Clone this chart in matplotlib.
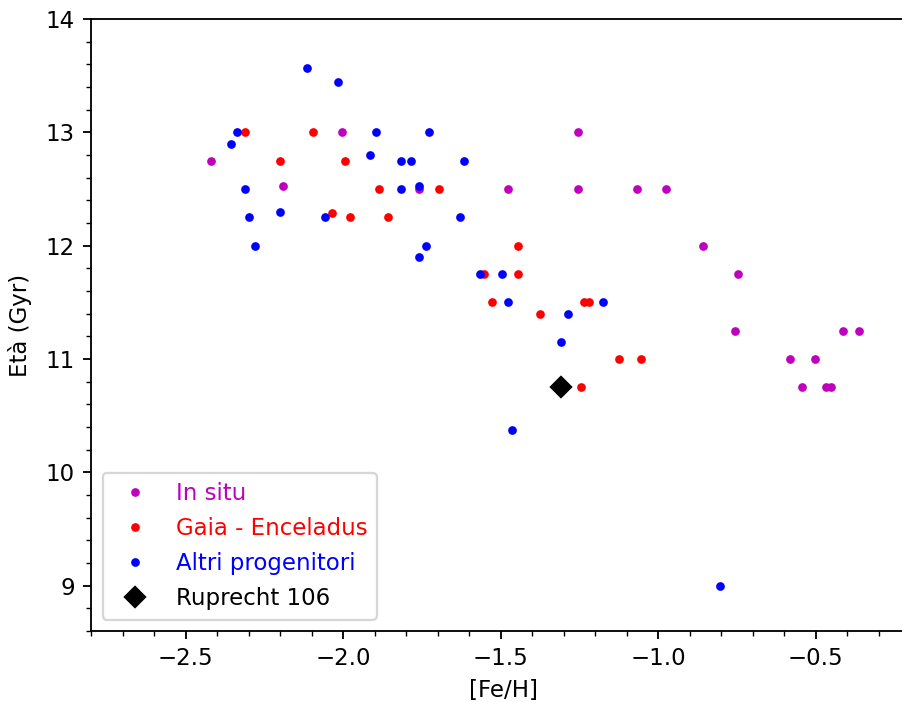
import matplotlib
matplotlib.use("Agg")
import matplotlib.pyplot as plt

DPI = 165

# In situ
insitu_feh = [-2.42, -2.19, -2.005, -1.758, -1.476, -1.255, -1.255, -1.066, -0.976,
              -0.856, -0.746, -0.755, -0.582, -0.503, -0.544, -0.468, -0.452, -0.414, -0.361]
insitu_age = [12.75, 12.53, 13.0, 12.5, 12.5, 13.0, 12.5, 12.5, 12.5,
              12.0, 11.75, 11.25, 11.0, 11.0, 10.75, 10.75, 10.75, 11.25, 11.25]

# Gaia - Enceladus
ge_feh = [-2.31, -2.095, -2.20, -1.995, -1.886, -2.035, -1.978, -1.859, -1.696,
          -1.444, -1.553, -1.444, -1.528, -1.236, -1.22, -1.375, -1.123, -1.055, -1.244]
ge_age = [13.0, 13.0, 12.75, 12.75, 12.5, 12.29, 12.25, 12.25, 12.5,
          12.0, 11.75, 11.75, 11.5, 11.5, 11.5, 11.4, 11.0, 11.0, 10.75]

# Altri progenitori
altri_feh = [-2.116, -2.017, -2.336, -1.896, -1.726, -2.356, -1.916, -1.817, -1.785,
             -1.617, -2.312, -1.817, -1.758, -2.30, -2.20, -2.058, -1.628, -2.28,
             -1.737, -1.758, -1.565, -1.495, -1.475, -1.175, -1.285, -1.307, -1.464, -0.804]
altri_age = [13.57, 13.44, 13.0, 13.0, 13.0, 12.9, 12.8, 12.75, 12.75,
             12.75, 12.5, 12.5, 12.53, 12.25, 12.3, 12.25, 12.25, 12.0,
             12.0, 11.9, 11.75, 11.75, 11.5, 11.5, 11.4, 11.15, 10.37, 9.0]

# Ruprecht 106
rup_feh = [-1.307]
rup_age = [10.75]


fig = plt.figure(figsize=(902 / DPI, 702 / DPI), dpi=DPI)
# right edge of the axes is cut off in the original, so let it run past the figure
ax = fig.add_axes([0.101, 0.101, 0.915, 0.872])

dot_kw = dict(linestyle="none", marker="o", markersize=3.8, markeredgewidth=0)
ax.plot(insitu_feh, insitu_age, color="m", label="In situ", **dot_kw)
ax.plot(ge_feh, ge_age, color="r", label="Gaia - Enceladus", **dot_kw)
ax.plot(altri_feh, altri_age, color="b", label="Altri progenitori", **dot_kw)
ax.plot(rup_feh, rup_age, "D", color="k", markersize=6, label="Ruprecht 106")

ax.set_xlim(-2.8, -0.18)
ax.set_ylim(8.6, 14)
ax.minorticks_on()

ax.set_xlabel("[Fe/H]")
ax.set_ylabel("Età (Gyr)", labelpad=6)

ax.legend(loc="lower left", numpoints=1, labelspacing=0.53,
          labelcolor="markerfacecolor")

plt.savefig("out.png", dpi=DPI)
plt.close()
